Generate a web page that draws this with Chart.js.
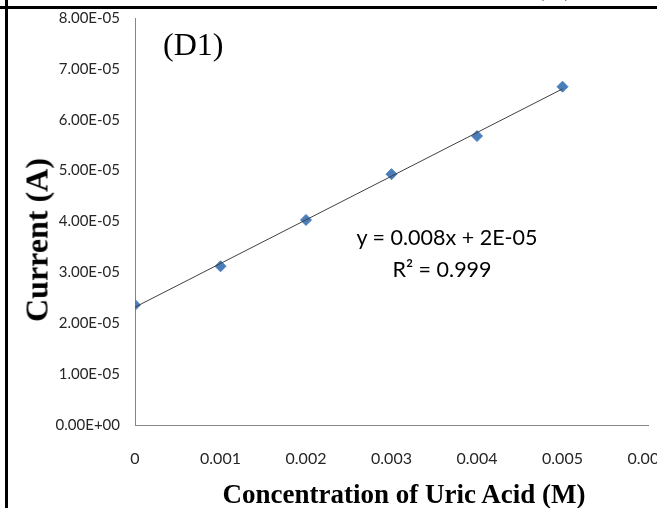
<!DOCTYPE html>
<html>
<head>
<meta charset="utf-8">
<script src="https://cdn.jsdelivr.net/npm/chart.js@4"></script>
<style>
    html, body { margin: 0; padding: 0; width: 657px; height: 508px; overflow: hidden; background: #fff; }
    #wrap { position: absolute; left: 0; top: 0; width: 700px; height: 508px; }
    .rule { position: absolute; background: #000; }
    .txt { position: absolute; white-space: nowrap; color: #000; }
    .serif { font-family: "Liberation Serif", "Times New Roman", serif; }
    .sans { font-family: Lato, "Open Sans", sans-serif; }
</style>
</head>
<body>
<div id="wrap"><canvas id="chart" width="700" height="508"></canvas></div>
<div class="rule" style="left:0;top:6px;width:657px;height:3px"></div>
<div class="rule" style="left:5px;top:0;width:3px;height:508px"></div>
<div class="txt serif" style="left:535px;top:-30px;font-size:28px">(D)</div>
<div class="txt serif" style="left:163px;top:26px;font-size:32px">(D1)</div>
<div class="txt sans" style="left:447px;top:237px;font-size:21.5px;transform:translate(-50%,-50%)">y = 0.008x + 2E-05</div>
<div class="txt sans" style="left:442px;top:269px;font-size:21.5px;transform:translate(-50%,-50%)">R² = 0.999</div>
<div class="txt serif" style="left:404px;top:494px;font-size:27px;font-weight:bold;transform:translate(-50%,-50%)">Concentration of Uric Acid (M)</div>
<div class="txt serif" style="left:37px;top:240px;font-size:32px;font-weight:bold;transform:translate(-50%,-50%) rotate(-90deg)">Current (A)</div>
<script>
// values
const concentrations = [0, 0.001, 0.002, 0.003, 0.004, 0.005];
const currents = [2.36e-5, 3.12e-5, 4.03e-5, 4.93e-5, 5.68e-5, 6.65e-5];
const xTickLabels = ['0', '0.001', '0.002', '0.003', '0.004', '0.005', '0.006'];
const yTickLabels = ['0.00E+00', '1.00E-05', '2.00E-05', '3.00E-05', '4.00E-05', '5.00E-05', '6.00E-05', '7.00E-05', '8.00E-05'];

document.addEventListener('DOMContentLoaded', function() {
    // least squares trendline through the measured points
    const n = concentrations.length;
    const mx = concentrations.reduce((a, b) => a + b, 0) / n;
    const my = currents.reduce((a, b) => a + b, 0) / n;
    let sxy = 0, sxx = 0;
    for (let i = 0; i < n; i++) {
        sxy += (concentrations[i] - mx) * (currents[i] - my);
        sxx += (concentrations[i] - mx) ** 2;
    }
    const slope = sxy / sxx;
    const intercept = my - slope * mx;
    const x0 = concentrations[0], x1 = concentrations[n - 1];
    const trend = [{ x: x0, y: intercept + slope * x0 }, { x: x1, y: intercept + slope * x1 }];

    const tickColor = '#262626';
    const ctx = document.getElementById('chart').getContext('2d');
    new Chart(ctx, {
        type: 'scatter',
        data: {
            datasets: [{
                type: 'line',
                data: trend,
                borderColor: '#404040',
                borderWidth: 1,
                pointRadius: 0,
                fill: false,
                order: 0
            }, {
                data: concentrations.map((c, i) => ({ x: c, y: currents[i] })),
                pointStyle: 'rectRot',
                pointRadius: 5.5,
                pointBackgroundColor: '#4a7ebb',
                pointBorderColor: '#4a7ebb',
                pointBorderWidth: 1,
                order: 1
            }]
        },
        options: {
            responsive: false,
            animation: false,
            events: [],
            layout: {
                padding: { left: 0, right: 52, top: 18, bottom: 0 }
            },
            scales: {
                x: {
                    type: 'linear',
                    min: 0,
                    max: 0.006,
                    grid: { display: false, drawTicks: false },
                    border: { display: true, color: '#868686', width: 1 },
                    ticks: {
                        stepSize: 0.001,
                        padding: 24,
                        color: tickColor,
                        font: { family: 'Lato', size: 16 },
                        maxRotation: 0,
                        autoSkip: false,
                        callback: (value, index) => xTickLabels[index]
                    },
                    afterFit: function(scale) {
                        scale.height = 83;
                        scale.paddingLeft = 0;
                        scale.paddingRight = 0;
                    }
                },
                y: {
                    min: 0,
                    max: 8e-5,
                    grid: { display: false, drawTicks: false },
                    border: { display: true, color: '#868686', width: 1 },
                    ticks: {
                        stepSize: 1e-5,
                        padding: 15,
                        color: tickColor,
                        font: { family: 'Lato', size: 15 },
                        callback: (value, index) => yTickLabels[index]
                    },
                    afterFit: function(scale) {
                        scale.width = 135;
                        scale.paddingTop = 0;
                        scale.paddingBottom = 0;
                    }
                }
            },
            plugins: {
                legend: { display: false },
                tooltip: { enabled: false }
            }
        }
    });
});
</script>
</body>
</html>
